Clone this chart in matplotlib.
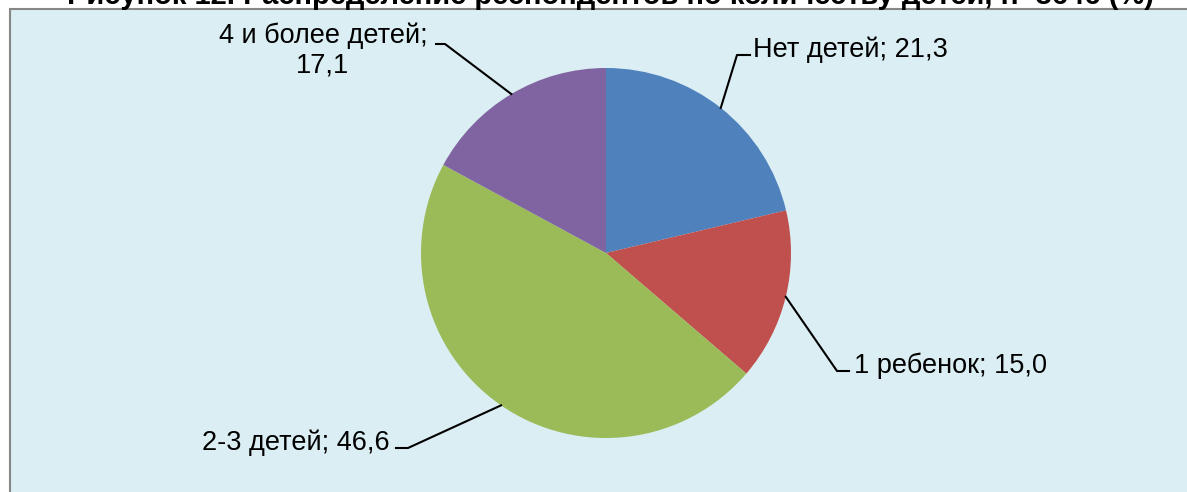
import numpy as np
import matplotlib.pyplot as plt
from matplotlib.patches import Rectangle

# Данные
categories = ['Нет детей', '1 ребенок', '2-3 детей', '4 и более детей']
values = [21.3, 15.0, 46.6, 17.1]
colors = ['#4F81BD', '#C0504D', '#9BBB59', '#8064A2']

W, H = 1187, 492
plt.rcParams['font.family'] = ['Liberation Sans', 'DejaVu Sans']

fig = plt.figure(figsize=(W / 100, H / 100), dpi=100)
ax = fig.add_axes([0, 0, 1, 1])

# фон области диаграммы
ax.add_patch(Rectangle((10, 9), W + 200, H + 200, facecolor='#DAEEF3',
                       edgecolor='#878787', linewidth=1.5, zorder=0))

ax.text(W / 2 + 17, -4, 'Рисунок 12. Распределение респондентов по количеству детей, n=3646 (%)',
        ha='center', va='center', fontsize=21, fontweight='bold', zorder=1)

cx, cy, r = 606, 253, 185
# ось y перевёрнута, поэтому counterclock=True на экране идёт по часовой стрелке
wedges, _ = ax.pie(values, colors=colors, startangle=-90, counterclock=True,
                   center=(cx, cy), radius=r, frame=True,
                   wedgeprops=dict(linewidth=0))
ax.set_xlim(0, W)
ax.set_ylim(H, 0)
ax.set_aspect('equal')
ax.axis('off')

# размещение подписей: (излом x, y, конец горизонтали x, текст x, базовая линия y, ha)
layout = [
    (737, 55, 750, 753, 57, 'left'),
    (837, 371, 849, 854, 373, 'left'),
    (408, 448, 396, 390, 450, 'right'),
    (445, 44, 436, 323, 43, 'center'),
]

fs = 19.5
for w, cat, val, (ex, ey, hx, tx, ty, ha) in zip(wedges, categories, values, layout):
    ang = np.deg2rad((w.theta1 + w.theta2) / 2)
    px = cx + r * np.cos(ang)
    py = cy + r * np.sin(ang)
    ax.plot([px, ex, hx], [py, ey, ey], color='black', linewidth=1.5, zorder=3)
    val_txt = f'{val:.1f}'.replace('.', ',')
    if ha == 'center':
        ax.text(tx, ty, f'{cat};', ha='center', va='baseline', fontsize=fs, zorder=3)
        ax.text(tx, ty + 30, val_txt, ha='center', va='baseline', fontsize=fs, zorder=3)
    else:
        ax.text(tx, ty, f'{cat}; {val_txt}', ha=ha, va='baseline', fontsize=fs, zorder=3)

fig.savefig('out.png', dpi=100)
